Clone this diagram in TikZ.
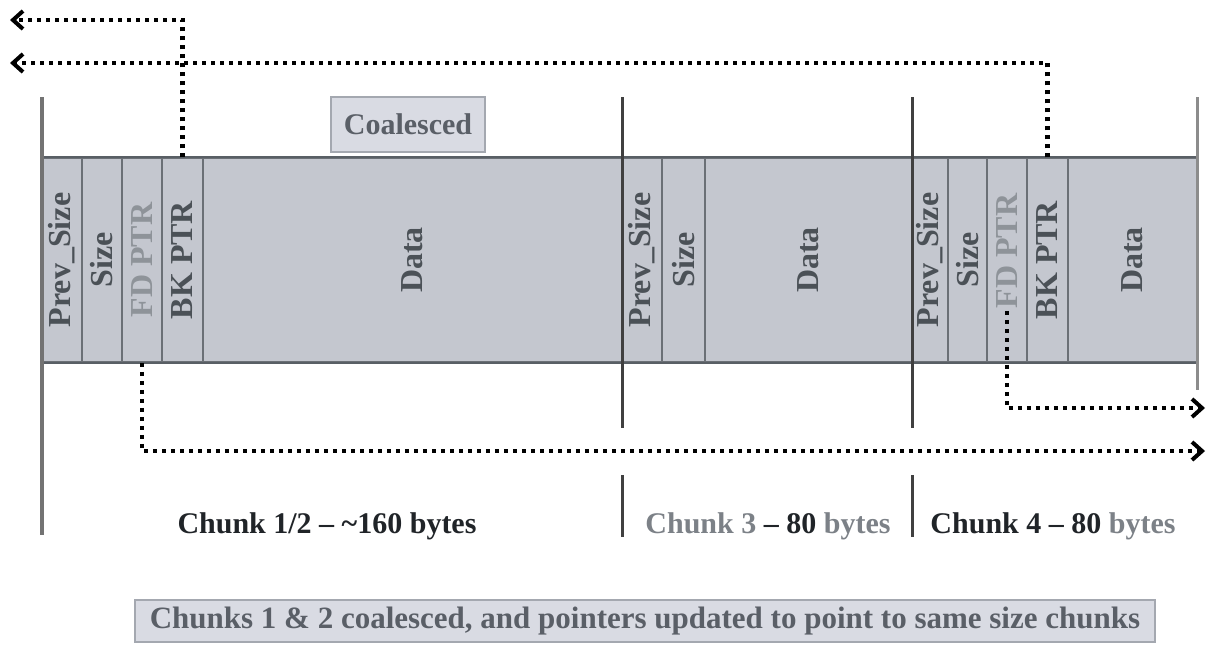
\documentclass[tikz,border=0pt]{standalone}
\usepackage{fontspec}
\setmainfont{Liberation Serif}
\usepackage{tikz}
\usetikzlibrary{arrows.meta,positioning}

\definecolor{bandfill}{HTML}{C4C7CF}
\definecolor{cellline}{HTML}{6B7076}
\definecolor{bandedge}{HTML}{595F65}
\definecolor{celltext}{HTML}{4B5157}
\definecolor{fadetext}{HTML}{8E9399}
\definecolor{boxfill}{HTML}{D9DBE3}
\definecolor{boxedge}{HTML}{A4A8B0}
\definecolor{boxtext}{HTML}{5A5F67}
\definecolor{greytext}{HTML}{7C8187}
\definecolor{inktext}{HTML}{202428}

\begin{document}
\begin{tikzpicture}[x=1pt,y=-1pt,
		cell/.style={draw=cellline, line width=1.5pt, fill=bandfill, minimum height=204pt, inner sep=0pt, text=celltext, font=\bfseries\fontsize{32}{38}\selectfont},
		tagbox/.style={draw=boxedge, line width=1.5pt, fill=boxfill, inner sep=0pt, text=boxtext, font=\bfseries\fontsize{30}{36}\selectfont},
		chunklabel/.style={anchor=base, inner sep=0pt, text=inktext, font=\bfseries\fontsize{30}{36}\selectfont},
		ptr/.style={line width=4.5pt, dash pattern=on 4pt off 5pt, -{Straight Barb[length=10pt,width=18pt,line width=4pt]}},
		bound/.style={line width=3pt, draw=black!75}]
		\useasboundingbox (0,0) rectangle (1214,653);
		% chunk 1/2
		\node [cell, minimum width=40pt] (c1prev) at (62,260) {\rotatebox{90}{Prev\_Size}};
		\node [cell, minimum width=40pt] (c1size) at (102,260) {\rotatebox{90}{Size}};
		\node [cell, minimum width=40pt, text=fadetext] (c1fd) at (142,260) {\rotatebox{90}{FD PTR}};
		\node [cell, minimum width=41pt] (c1bk) at (182.5,260) {\rotatebox{90}{BK PTR}};
		\node [cell, minimum width=419pt] (c1data) at (412.5,260) {\rotatebox{90}{Data}};
		% chunk 3
		\node [cell, minimum width=40pt] (c3prev) at (642,260) {\rotatebox{90}{Prev\_Size}};
		\node [cell, minimum width=43pt] (c3size) at (683.5,260) {\rotatebox{90}{Size}};
		\node [cell, minimum width=207pt] (c3data) at (808.5,260) {\rotatebox{90}{Data}};
		% chunk 4
		\node [cell, minimum width=36pt] (c4prev) at (930,260) {\rotatebox{90}{Prev\_Size}};
		\node [cell, minimum width=39pt] (c4size) at (967.5,260) {\rotatebox{90}{Size}};
		\node [cell, minimum width=40pt, text=fadetext] (c4fd) at (1007,260) {\rotatebox{90}{\hspace{18pt}FD PTR}};
		\node [cell, minimum width=41pt] (c4bk) at (1047.5,260) {\rotatebox{90}{BK PTR}};
		\node [cell, minimum width=129pt] (c4data) at (1132.5,260) {\rotatebox{90}{Data}};
		\draw [line width=2pt, draw=bandedge] (c1prev.north west) rectangle (c4data.south east);
		% chunk boundaries
		\draw [line width=4pt, draw=black!55] (42,97) -- (42,535);
		\draw [bound] (622,97) -- (622,428);
		\draw [bound] (622,475) -- (622,537);
		\draw [bound] (912,97) -- (912,428);
		\draw [bound] (912,475) -- (912,537);
		\draw [line width=3pt, draw=black!45] (1197,97) -- (1197,390);
		\node [tagbox, minimum width=154pt, minimum height=55pt] (coal) at (408,124.5) {Coalesced};
		% free list pointers
		\coordinate (bk1end) at (10,20);
		\coordinate (bk4end) at (10,63);
		\coordinate (fd1end) at (1205,451);
		\coordinate (fd4end) at (1205,408);
		\draw [ptr] (c1bk.north) |- (bk1end);
		\draw [ptr] (c4bk.north) |- (bk4end);
		\draw [ptr] (c1fd.south) |- (fd1end);
		\draw [ptr] ([yshift=52pt]c4fd.south) |- (fd4end);
		% sizes
		\node [chunklabel] (size12) at (327,533) {Chunk 1/2 -- \textasciitilde160 bytes};
		\node [chunklabel] (size3) at (768,533) {\textcolor{greytext}{Chunk 3} -- 80 \textcolor{greytext}{bytes}};
		\node [chunklabel] (size4) at (1053,533) {Chunk 4 -- 80 \textcolor{greytext}{bytes}};
		\node [tagbox, minimum width=1020pt, minimum height=42pt, font=\bfseries\fontsize{31}{36}\selectfont] (summary) at (645,621) {Chunks 1 \& 2 coalesced, and pointers updated to point to same size chunks};
\end{tikzpicture}
\end{document}
